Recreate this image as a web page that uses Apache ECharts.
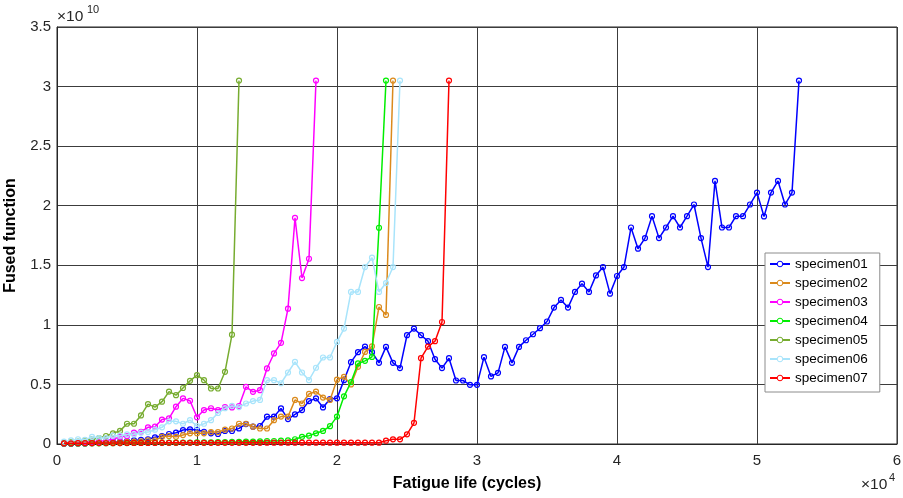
<!DOCTYPE html>
<html>
<head>
<meta charset="utf-8">
<script src="https://cdn.jsdelivr.net/npm/echarts@6/dist/echarts.min.js"></script>
<style>
  html, body { margin: 0; padding: 0; background: #fff; }
  #chart { width: 903px; height: 498px; }
</style>
</head>
<body>
<div id="chart"></div>
<script>
// Fused damage function vs. fatigue life for seven specimens.
// Samples are taken every 500 cycles, starting at 500 cycles.
// x values are in units of 10^4 cycles, y values in units of 10^10.
const SAMPLE_STEP = 0.05;   // 500 cycles in units of 10^4

const seriesNames = ['specimen01', 'specimen02', 'specimen03', 'specimen04', 'specimen05', 'specimen06', 'specimen07'];
const seriesColors = ['#0000ff', '#db8a1c', '#ff00ff', '#00ee00', '#77ac30', '#a8e4fb', '#ff0000'];

const specimen01 = [
  0.002, 0.003, 0.004, 0.005, 0.008, 0.010, 0.012, 0.015, 0.020, 0.025,
  0.030, 0.035, 0.040, 0.056, 0.067, 0.084, 0.095, 0.117, 0.123, 0.117,
  0.103, 0.090, 0.084, 0.109, 0.109, 0.131, 0.167, 0.145, 0.151, 0.229,
  0.229, 0.299, 0.209, 0.248, 0.285, 0.360, 0.383, 0.307, 0.377, 0.383,
  0.536, 0.687, 0.771, 0.818, 0.771, 0.681, 0.815, 0.681, 0.637, 0.913,
  0.969, 0.913, 0.863, 0.712, 0.637, 0.720, 0.533, 0.533, 0.497, 0.497,
  0.729, 0.567, 0.597, 0.815, 0.681, 0.815, 0.871, 0.921, 0.972, 1.028,
  1.145, 1.209, 1.145, 1.276, 1.346, 1.276, 1.415, 1.485, 1.262, 1.410,
  1.485, 1.817, 1.639, 1.728, 1.912, 1.728, 1.817, 1.912, 1.817, 1.912,
  2.010, 1.728, 1.485, 2.208, 1.817, 1.817, 1.912, 1.912, 2.010, 2.110,
  1.910, 2.110, 2.208, 2.010, 2.110, 3.050
];
const specimen02 = [
  0.005, 0.006, 0.007, 0.008, 0.010, 0.010, 0.012, 0.014, 0.015, 0.018,
  0.020, 0.022, 0.030, 0.030, 0.060, 0.067, 0.060, 0.075, 0.090, 0.090,
  0.090, 0.100, 0.100, 0.120, 0.130, 0.170, 0.170, 0.145, 0.130, 0.130,
  0.200, 0.230, 0.230, 0.370, 0.340, 0.420, 0.440, 0.390, 0.370, 0.540,
  0.564, 0.500, 0.648, 0.773, 0.820, 1.150, 1.083, 3.050
];
const specimen03 = [
  0.005, 0.008, 0.010, 0.015, 0.020, 0.020, 0.030, 0.040, 0.060, 0.067,
  0.095, 0.103, 0.140, 0.145, 0.205, 0.215, 0.313, 0.383, 0.363, 0.224,
  0.285, 0.300, 0.285, 0.310, 0.307, 0.318, 0.480, 0.438, 0.452, 0.634,
  0.760, 0.849, 1.136, 1.898, 1.393, 1.555, 3.050
];
const specimen04 = [
  0.004, 0.004, 0.005, 0.005, 0.006, 0.006, 0.007, 0.007, 0.008, 0.008,
  0.009, 0.009, 0.010, 0.010, 0.010, 0.011, 0.011, 0.012, 0.012, 0.013,
  0.013, 0.014, 0.015, 0.016, 0.017, 0.018, 0.020, 0.020, 0.022, 0.025,
  0.025, 0.028, 0.030, 0.040, 0.060, 0.070, 0.090, 0.110, 0.150, 0.230,
  0.400, 0.520, 0.676, 0.698, 0.731, 1.815, 3.050
];
const specimen05 = [
  0.010, 0.015, 0.020, 0.030, 0.040, 0.050, 0.067, 0.090, 0.110, 0.170,
  0.170, 0.240, 0.335, 0.310, 0.355, 0.440, 0.410, 0.470, 0.530, 0.578,
  0.536, 0.466, 0.466, 0.606, 0.918, 3.050
];
const specimen06 = [
  0.020, 0.030, 0.040, 0.035, 0.060, 0.050, 0.050, 0.070, 0.070, 0.080,
  0.080, 0.095, 0.100, 0.120, 0.140, 0.190, 0.190, 0.170, 0.200, 0.150,
  0.170, 0.200, 0.260, 0.300, 0.320, 0.310, 0.340, 0.360, 0.370, 0.536,
  0.536, 0.510, 0.600, 0.690, 0.600, 0.536, 0.640, 0.726, 0.726, 0.857,
  0.969, 1.276, 1.276, 1.485, 1.564, 1.276, 1.351, 1.485, 3.050
];
const specimen07 = [
  0.006, 0.006, 0.007, 0.007, 0.007, 0.008, 0.008, 0.008, 0.008, 0.009,
  0.009, 0.009, 0.009, 0.009, 0.010, 0.010, 0.010, 0.010, 0.010, 0.010,
  0.010, 0.010, 0.010, 0.010, 0.010, 0.010, 0.010, 0.010, 0.010, 0.011,
  0.011, 0.011, 0.011, 0.011, 0.011, 0.011, 0.011, 0.011, 0.011, 0.011,
  0.011, 0.011, 0.011, 0.011, 0.011, 0.011, 0.028, 0.039, 0.039, 0.081,
  0.178, 0.720, 0.818, 0.863, 1.024, 3.050
];

const seriesValues = [specimen01, specimen02, specimen03, specimen04, specimen05, specimen06, specimen07];

const FONT = '"Liberation Sans", Arial, Helvetica, sans-serif';
const TEXT_COLOR = '#262626';
const GRID_COLOR = '#3c3c3c';

function toPoints(values) {
  return values.map((v, i) => [Number(((i + 1) * SAMPLE_STEP).toFixed(2)), v]);
}

const series = seriesNames.map((name, i) => ({
  name: name,
  type: 'line',
  data: toPoints(seriesValues[i]),
  symbol: 'circle',
  symbolSize: 5,
  showSymbol: true,
  showAllSymbol: true,
  lineStyle: { color: seriesColors[i], width: 1.5 },
  itemStyle: { color: 'rgba(255,255,255,0)', borderColor: seriesColors[i], borderWidth: 1.2 },
  emphasis: { disabled: true },
  z: 2 + i
}));

const chart = echarts.init(document.getElementById('chart'));
chart.setOption({
  animation: false,
  backgroundColor: '#ffffff',
  grid: {
    left: 57, right: 6, top: 27, bottom: 54,
    outerBoundsMode: 'none',
    containLabel: false,
    show: true, borderColor: TEXT_COLOR, borderWidth: 1, backgroundColor: 'transparent'
  },
  xAxis: {
    type: 'value', min: 0, max: 6, interval: 1,
    axisLine: { show: true, lineStyle: { color: TEXT_COLOR, width: 1 } },
    axisTick: { show: false },
    splitLine: { show: true, lineStyle: { color: GRID_COLOR, width: 1 } },
    axisLabel: { color: TEXT_COLOR, fontSize: 15, fontFamily: FONT, margin: 9 },
    name: 'Fatigue life (cycles)',
    nameLocation: 'middle',
    nameGap: 32,
    nameTextStyle: { color: '#000', fontSize: 16, fontWeight: 'bold', fontFamily: FONT, padding: [0, 20, 0, 0] }
  },
  yAxis: {
    type: 'value', min: 0, max: 3.5, interval: 0.5,
    axisLine: { show: true, lineStyle: { color: TEXT_COLOR, width: 1 } },
    axisTick: { show: false },
    splitLine: { show: true, lineStyle: { color: GRID_COLOR, width: 1 } },
    axisLabel: { color: TEXT_COLOR, fontSize: 15, fontFamily: FONT, margin: 6 },
    name: 'Fused function',
    nameLocation: 'middle',
    nameGap: 38,
    nameRotate: 90,
    nameTextStyle: { color: '#000', fontSize: 16, fontWeight: 'bold', fontFamily: FONT }
  },
  legend: {
    data: seriesNames,
    orient: 'vertical',
    left: 765, top: 253,
    itemWidth: 20, itemHeight: 7, itemGap: 5,
    padding: [4, 12, 7, 4],
    backgroundColor: '#ffffff',
    borderColor: '#8c8c8c', borderWidth: 1,
    selectedMode: false,
    itemStyle: { color: '#ffffff', borderWidth: 1 },
    textStyle: { color: '#000', fontSize: 13.5, fontFamily: FONT }
  },
  graphic: [
    { type: 'text', left: 57, top: 9, z: 10, style: { text: '×10', font: '15.5px ' + FONT, fill: TEXT_COLOR } },
    { type: 'text', left: 87, top: 4, z: 10, style: { text: '10', font: '11px ' + FONT, fill: TEXT_COLOR } },
    { type: 'text', left: 861, top: 477, z: 10, style: { text: '×10', font: '15.5px ' + FONT, fill: TEXT_COLOR } },
    { type: 'text', left: 889, top: 472, z: 10, style: { text: '4', font: '11px ' + FONT, fill: TEXT_COLOR } }
  ],
  series: series
});
</script>
</body>
</html>
